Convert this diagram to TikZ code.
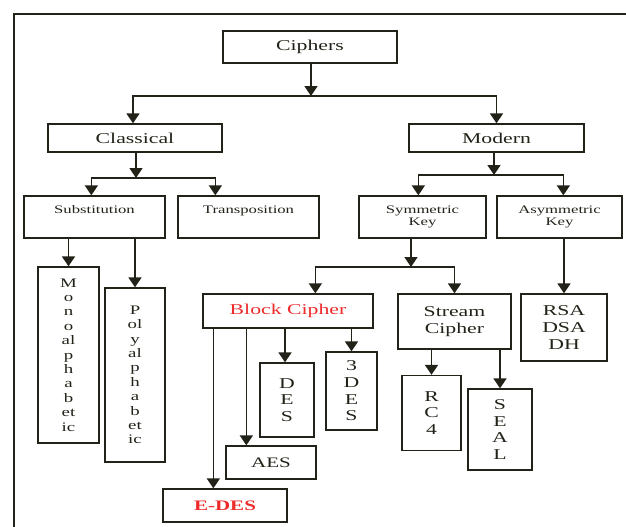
\documentclass[tikz,border=0pt]{standalone}
\usepackage{fontspec}
\setmainfont[FakeStretch=1.45]{Liberation Serif}
\usepackage{tikz}
\usetikzlibrary{arrows.meta,positioning}
\definecolor{ink}{HTML}{222218}
\definecolor{hot}{HTML}{ee2b2b}
\tikzset{
  box/.style={draw=ink, line width=1.3pt, inner sep=0pt, align=center, text=ink},
  big/.style={box, font=\fontsize{15}{16.6}\selectfont},
  mid/.style={box, font=\fontsize{14.5}{16}\selectfont},
  small/.style={box, font=\fontsize{11.5}{12}\selectfont},
  tall/.style={box, font=\fontsize{13}{14.4}\selectfont},
  flow/.style={-{Triangle[width=13pt,length=10pt]}, draw=ink, line width=1.6pt},
}

\begin{document}
\begin{tikzpicture}[x=1pt, y=-1pt]
\useasboundingbox (0,0) rectangle (626,527);
\draw[ink, line width=1.3pt] (14,527) -- (14,14) -- (626,14);

\node[big, minimum width=174, minimum height=32] (ciphers) at (310,47) {Ciphers};
\node[big, minimum width=174, minimum height=28] (classical) at (135,138) {Classical};
\node[big, minimum width=175, minimum height=28] (modern) at (496.5,138) {Modern};
\node[small, minimum width=141, minimum height=42, text height=8pt, text depth=15pt] (subst) at (94.5,217) {Substitution};
\node[small, minimum width=141, minimum height=42, text height=8pt, text depth=15pt] (trans) at (248.5,217) {Transposition};
\node[small, minimum width=127, minimum height=42] (symkey) at (422.5,217) {Symmetric\\Key};
\node[small, minimum width=125, minimum height=42] (asymkey) at (559.5,217) {Asymmetric\\Key};
\node[tall, minimum width=61, minimum height=176] (mono) at (68.5,355) {M\\o\\n\\o\\al\\p\\h\\a\\b\\et\\ic};
\node[tall, minimum width=60, minimum height=174] (poly) at (135,375) {P\\ol\\y\\al\\p\\h\\a\\b\\et\\ic};
\node[big, text=hot, minimum width=170, minimum height=34] (block) at (288,311) {Block Cipher};
\node[big, minimum width=113, minimum height=55] (stream) at (454.5,321.5) {Stream\\Cipher};
\node[big, minimum width=86, minimum height=67] (rsa) at (564,327.5) {RSA\\DSA\\DH};
\node[big, minimum width=54, minimum height=74] (des) at (287,400) {D\\E\\S};
\node[big, minimum width=51, minimum height=78] (tdes) at (351.5,391) {3\\D\\E\\S};
\node[mid, minimum width=90, minimum height=33] (aes) at (271,462.5) {AES};
\node[mid, text=hot, font=\fontsize{14.5}{16}\selectfont\bfseries, minimum width=124, minimum height=33] (edes) at (225,505.5) {E-DES};
\node[big, minimum width=59, minimum height=75] (rc4) at (431.5,413) {R\\C\\4};
\node[big, minimum width=64, minimum height=81] (seal) at (500,429.5) {S\\E\\A\\L};

\coordinate (topJ) at (311,96);
\draw[flow] (ciphers.south -| topJ) -- (topJ);
\draw[flow] (topJ) -| ([xshift=-2pt]classical.north);
\draw[flow] (topJ) -| (modern.north);

\coordinate (classJ) at (136,178);
\draw[flow] (classical.south -| classJ) -- (classJ);
\draw[flow] (classJ) -| ([xshift=68pt]subst.north west);
\draw[flow] (classJ) -| ([xshift=38pt]trans.north west);

\coordinate (modJ) at (494,175);
\draw[flow] (modern.south -| modJ) -- (modJ);
\draw[flow] (modJ) -| ([xshift=60pt]symkey.north west);
\draw[flow] (modJ) -| ([xshift=67pt]asymkey.north west);

\draw[flow] (subst.south -| mono.north) -- (mono.north);
\draw[flow] (subst.south -| poly.north) -- (poly.north);

\coordinate (symJ) at (411,267);
\draw[flow] (symkey.south -| symJ) -- (symJ);
\draw[flow] (symJ) -| ([xshift=113pt]block.north west);
\draw[flow] (symJ) -| (stream.north);

\draw[flow] ([xshift=11pt]block.south west) -- ([xshift=11pt]block.south west |- edes.north);
\draw[flow] ([xshift=44pt]block.south west) -- ([xshift=44pt]block.south west |- aes.north);
\draw[flow] ([xshift=-2pt]block.south -| des.north) -- ([xshift=-2pt]des.north);
\draw[flow] (block.south -| tdes.north) -- (tdes.north);

\draw[flow] (stream.south -| rc4.north) -- (rc4.north);
\draw[flow] (stream.south -| seal.north) -- (seal.north);
\draw[flow] (asymkey.south -| rsa.north) -- (rsa.north);
\end{tikzpicture}
\end{document}
